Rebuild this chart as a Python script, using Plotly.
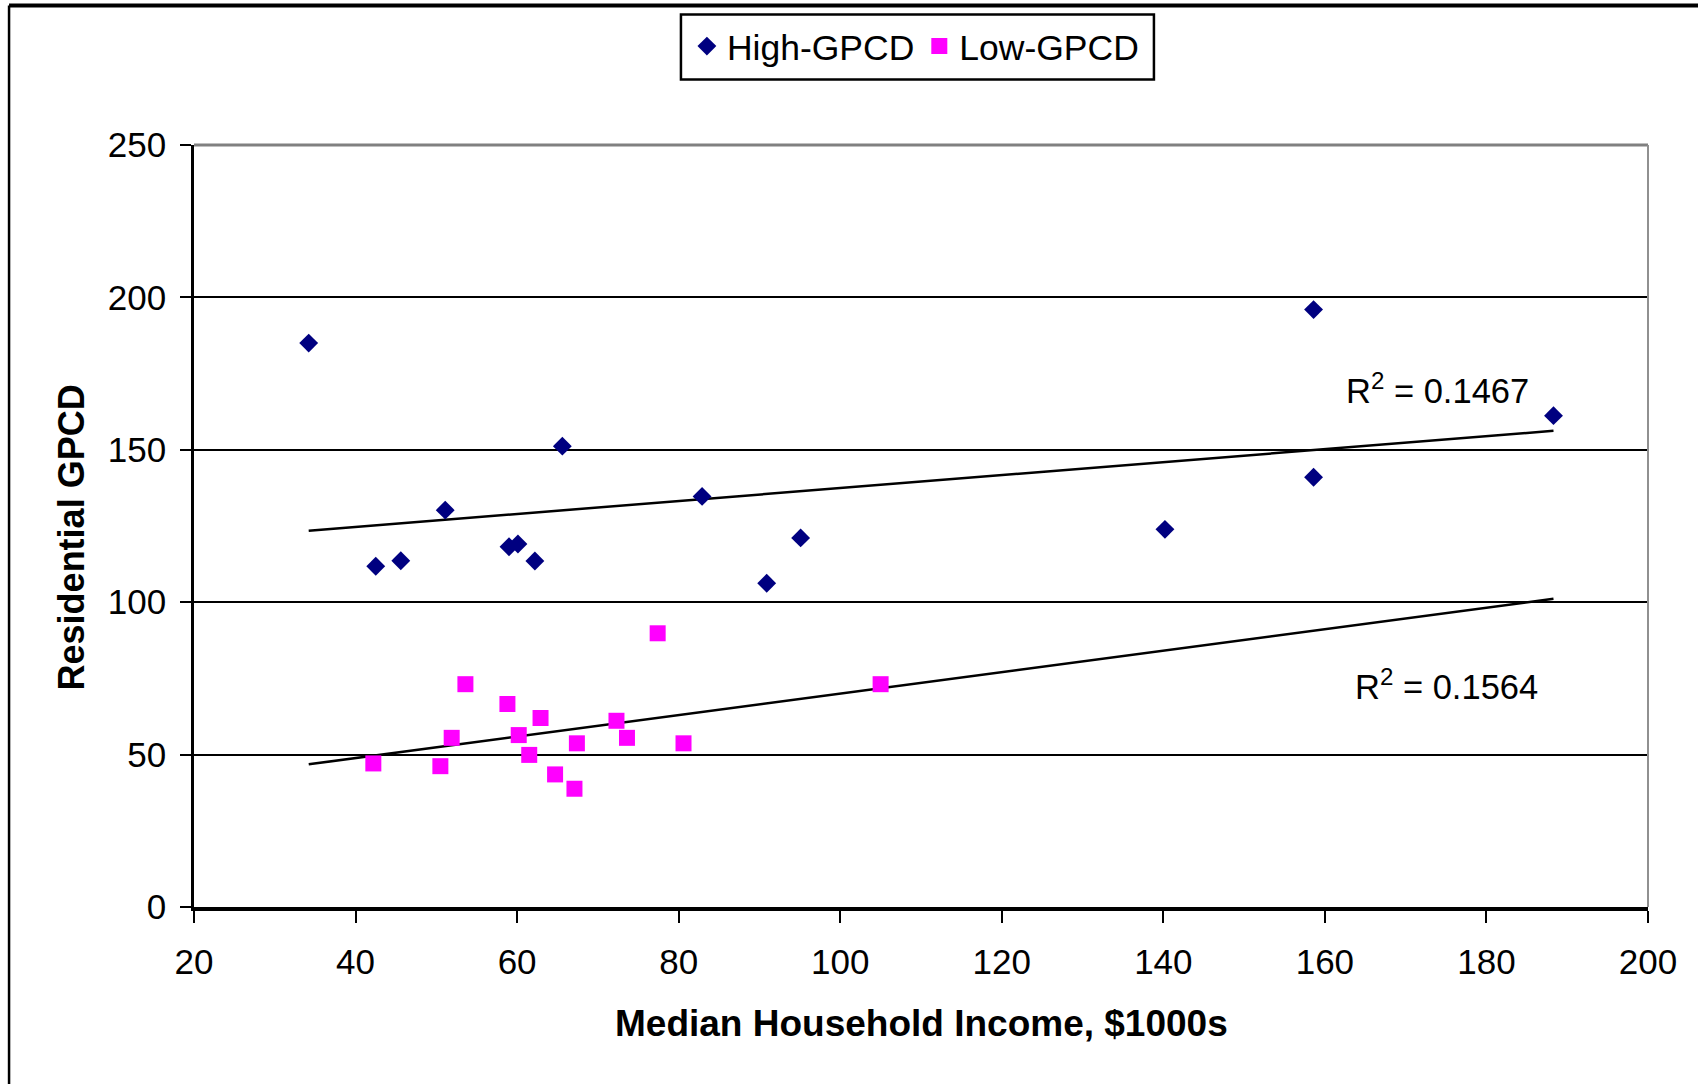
import numpy as np
import plotly.graph_objects as go

# Residential water use vs. household income, split into high/low GPCD groups
high_income = [34.2, 42.5, 45.6, 51.1, 59.0, 60.1, 62.2, 65.6, 82.9, 90.9, 95.1, 140.2, 158.6, 158.6, 188.3]
high_gpcd = [185.0, 111.8, 113.6, 130.2, 118.2, 119.1, 113.5, 151.2, 134.7, 106.2, 121.1, 123.9, 196.0, 141.0, 161.2]

low_income = [42.2, 50.5, 51.9, 53.6, 58.8, 60.2, 61.5, 62.9, 64.7, 67.1, 67.4, 72.3, 73.6, 77.4, 80.6, 105.0]
low_gpcd = [47.1, 46.2, 55.5, 73.1, 66.6, 56.4, 49.9, 62.0, 43.5, 38.8, 53.7, 61.1, 55.5, 89.8, 53.7, 73.1]

r2_values = ["0.1467", "0.1564"]
r2_pos_x = [174.0, 175.1]
r2_pos_y = [170.0, 73.1]

FONT = "Liberation Sans, Arial, sans-serif"
NAVY = "#000080"
MAGENTA = "#FF00FF"

# Linear trendlines, drawn across the full income span of both groups
span = np.array([min(high_income + low_income), max(high_income + low_income)])
hi_fit = np.polyfit(high_income, high_gpcd, 1)
lo_fit = np.polyfit(low_income, low_gpcd, 1)

fig = go.Figure()

fig.add_trace(go.Scatter(
    x=span, y=np.polyval(hi_fit, span), mode="lines",
    line=dict(color="black", width=2.5), showlegend=False, hoverinfo="skip"))
fig.add_trace(go.Scatter(
    x=span, y=np.polyval(lo_fit, span), mode="lines",
    line=dict(color="black", width=2.5), showlegend=False, hoverinfo="skip"))

fig.add_trace(go.Scatter(
    x=high_income, y=high_gpcd, mode="markers", name="High-GPCD",
    marker=dict(symbol="diamond", size=14.5, color=NAVY)))
fig.add_trace(go.Scatter(
    x=low_income, y=low_gpcd, mode="markers", name="Low-GPCD",
    marker=dict(symbol="square", size=16, color=MAGENTA)))

for val, ax_, ay_ in zip(r2_values, r2_pos_x, r2_pos_y):
    fig.add_annotation(
        x=ax_, y=ay_, xref="x", yref="y", showarrow=False,
        text=f"R<sup>2</sup> = {val}",
        font=dict(family=FONT, size=34.5, color="black"),
        xanchor="center", yanchor="middle")

# Axis titles
fig.add_annotation(
    x=0.5, y=-0.153, xref="paper", yref="paper", showarrow=False,
    text="<b>Median Household Income, $1000s</b>",
    font=dict(family=FONT, size=37, color="black"),
    xanchor="center", yanchor="middle")
fig.add_annotation(
    x=-0.0846, y=0.485, xref="paper", yref="paper", showarrow=False,
    text="<b>Residential GPCD</b>", textangle=-90,
    font=dict(family=FONT, size=36, color="black"),
    xanchor="center", yanchor="middle")

# Chart frame and plot-area edges
fig.add_shape(type="line", xref="paper", yref="paper",
              x0=-0.1272, x1=1.1, y0=1.1831, y1=1.1831,
              line=dict(color="black", width=4))
fig.add_shape(type="line", xref="paper", yref="paper",
              x0=-0.1272, x1=-0.1272, y0=-0.3, y1=1.1831,
              line=dict(color="black", width=2.5))
fig.add_shape(type="line", xref="paper", yref="paper",
              x0=0, x1=1, y0=1, y1=1, layer="above",
              line=dict(color="#808080", width=3))
fig.add_shape(type="line", xref="paper", yref="paper",
              x0=1, x1=1, y0=0, y1=1, layer="above",
              line=dict(color="#909090", width=2))

# Legend box
fig.add_shape(type="rect", xref="paper", yref="paper",
              x0=0.3349, x1=0.6602, y0=1.0860, y1=1.1713,
              line=dict(color="black", width=2.5), fillcolor="rgba(0,0,0,0)")

fig.update_layout(
    width=1698, height=1084,
    margin=dict(l=194, r=50, t=145, b=177),
    paper_bgcolor="white", plot_bgcolor="white",
    font=dict(family=FONT, size=35, color="black"),
    legend=dict(
        orientation="h", x=0.339, xanchor="left", xref="paper",
        y=1.1686, yanchor="top",
        borderwidth=0, bgcolor="rgba(0,0,0,0)",
        font=dict(family=FONT, size=35.5, color="black"),
        itemclick=False, itemdoubleclick=False),
    xaxis=dict(
        range=[20, 200], dtick=20, tick0=20, showgrid=False, zeroline=False,
        showline=True, linecolor="black", linewidth=4,
        ticks="outside", ticklen=12, tickwidth=2, tickcolor="black",
        tickfont=dict(family=FONT, size=35, color="black"),
        ticklabelstandoff=9),
    yaxis=dict(
        range=[0, 250], dtick=50, tick0=0, showgrid=True,
        gridcolor="black", gridwidth=2, zeroline=False,
        showline=True, linecolor="black", linewidth=2.5,
        ticks="outside", ticklen=11, tickwidth=2, tickcolor="black",
        tickfont=dict(family=FONT, size=35, color="black"),
        ticklabelstandoff=7),
    showlegend=True,
)

fig.write_html("out.html")
